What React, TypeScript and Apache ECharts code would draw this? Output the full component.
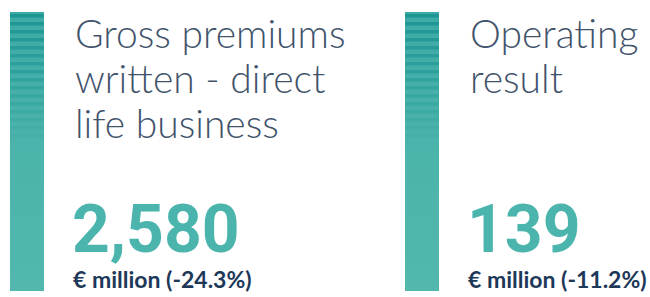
import React, { useEffect, useRef } from "react";
import * as echarts from "echarts";

const titles = ["Gross premiums\nwritten - direct\nlife business", "Operating\nresult"];
const values = ["2,580", "139"];
const units = ["€ million (-24.3%)", "€ million (-11.2%)"];

const panelX = [10, 405];
const barW = 34;
const barTop = 12;
const barBottom = 291;

export default function App() {
  const ref = useRef<HTMLDivElement>(null);
  useEffect(() => {
    const chart = echarts.init(ref.current!, null, { renderer: "svg" });
    const elements: any[] = [];
    panelX.forEach((px, i) => {
      elements.push({
        type: "rect",
        shape: { x: px, y: barTop, width: barW, height: barBottom - barTop },
        style: {
          fill: new echarts.graphic.LinearGradient(0, 0, 0, 1, [
            { offset: 0, color: "#3eaaa6" },
            { offset: 0.5, color: "#4bb4ab" },
            { offset: 1, color: "#52b8ad" },
          ]),
        },
      });
      for (let k = 0; k < 17; k++) {
        const y = barTop + 2 + k * 8;
        elements.push({
          type: "rect",
          shape: { x: px, y, width: barW, height: 3.5 },
          style: { fill: "#16918f", opacity: Math.max(0, 0.8 - k * 0.05) },
        });
      }
      elements.push({
        type: "text",
        x: px + 65,
        y: 10,
        style: {
          text: titles[i],
          fontFamily: "Lato",
          fontWeight: 300,
          fontSize: 39,
          lineHeight: 45,
          fill: "#41536b",
          verticalAlign: "top",
        },
      });
      elements.push({
        type: "text",
        x: px + 62,
        y: 229,
        style: {
          text: values[i],
          fontFamily: "Roboto",
          fontWeight: "bold",
          fontSize: 66,
          fill: "#4bb5ad",
          verticalAlign: "middle",
        },
      });
      elements.push({
        type: "text",
        x: px + 63,
        y: 279,
        style: {
          text: units[i],
          fontFamily: "Lato",
          fontWeight: "bold",
          fontSize: 23,
          fill: "#1d3858",
          verticalAlign: "middle",
        },
      });
    });
    chart.setOption({
      animation: false,
      backgroundColor: "#ffffff",
      graphic: { elements },
    });
    return () => chart.dispose();
  }, []);
  return (
    <div
      ref={ref}
      style={{ position: "fixed", left: 0, top: 0, width: 650, height: 297 }}
    />
  );
}
